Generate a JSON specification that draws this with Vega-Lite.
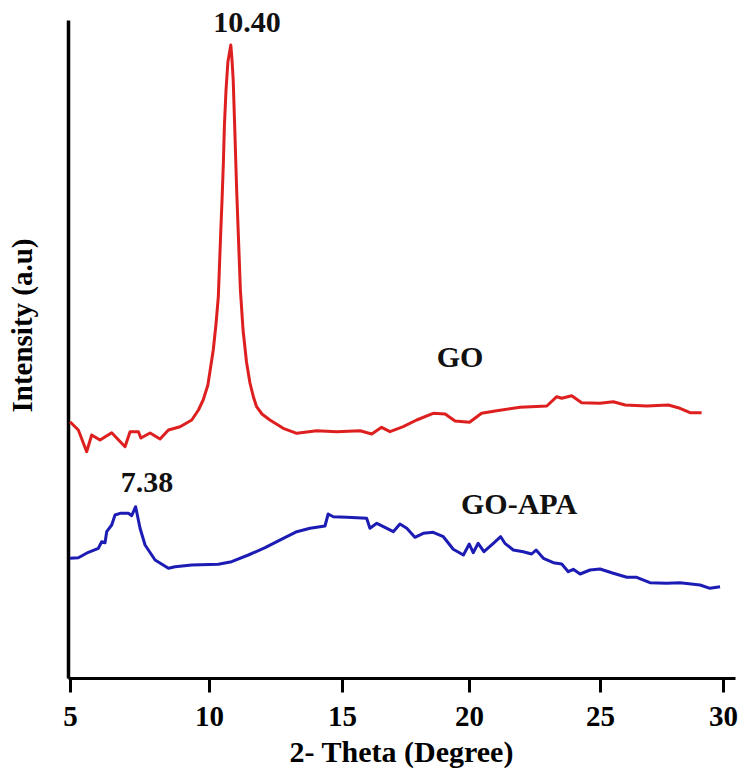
{
  "$schema": "https://vega.github.io/schema/vega-lite/v6.json",
  "autosize": "none",
  "width": 667,
  "height": 658,
  "padding": {"left": 68, "top": 20, "right": 6, "bottom": 91},
  "background": "white",
  "config": {"view": {"stroke": null}, "font": "Liberation Serif"},
  "datasets": {
    "curves": [
      {"series": "GO", "theta": 5.00, "intensity": 256.3},
      {"series": "GO", "theta": 5.30, "intensity": 248},
      {"series": "GO", "theta": 5.60, "intensity": 226.3},
      {"series": "GO", "theta": 5.78, "intensity": 243},
      {"series": "GO", "theta": 6.08, "intensity": 238},
      {"series": "GO", "theta": 6.50, "intensity": 245.3},
      {"series": "GO", "theta": 6.98, "intensity": 231.3},
      {"series": "GO", "theta": 7.16, "intensity": 246.3},
      {"series": "GO", "theta": 7.46, "intensity": 246.3},
      {"series": "GO", "theta": 7.55, "intensity": 240},
      {"series": "GO", "theta": 7.88, "intensity": 245},
      {"series": "GO", "theta": 8.24, "intensity": 239},
      {"series": "GO", "theta": 8.54, "intensity": 248},
      {"series": "GO", "theta": 8.96, "intensity": 251.3},
      {"series": "GO", "theta": 9.38, "intensity": 258},
      {"series": "GO", "theta": 9.62, "intensity": 268},
      {"series": "GO", "theta": 9.79, "intensity": 278},
      {"series": "GO", "theta": 9.96, "intensity": 293},
      {"series": "GO", "theta": 10.16, "intensity": 328},
      {"series": "GO", "theta": 10.26, "intensity": 353},
      {"series": "GO", "theta": 10.35, "intensity": 381},
      {"series": "GO", "theta": 10.43, "intensity": 438},
      {"series": "GO", "theta": 10.49, "intensity": 478},
      {"series": "GO", "theta": 10.54, "intensity": 515},
      {"series": "GO", "theta": 10.58, "intensity": 553},
      {"series": "GO", "theta": 10.64, "intensity": 588},
      {"series": "GO", "theta": 10.71, "intensity": 616},
      {"series": "GO", "theta": 10.82, "intensity": 633},
      {"series": "GO", "theta": 10.86, "intensity": 620},
      {"series": "GO", "theta": 10.91, "intensity": 598},
      {"series": "GO", "theta": 10.97, "intensity": 548},
      {"series": "GO", "theta": 11.04, "intensity": 488},
      {"series": "GO", "theta": 11.11, "intensity": 438},
      {"series": "GO", "theta": 11.18, "intensity": 388},
      {"series": "GO", "theta": 11.28, "intensity": 348},
      {"series": "GO", "theta": 11.41, "intensity": 316},
      {"series": "GO", "theta": 11.54, "intensity": 295},
      {"series": "GO", "theta": 11.67, "intensity": 281},
      {"series": "GO", "theta": 11.79, "intensity": 271.3},
      {"series": "GO", "theta": 11.99, "intensity": 264},
      {"series": "GO", "theta": 12.29, "intensity": 258},
      {"series": "GO", "theta": 12.79, "intensity": 249.7},
      {"series": "GO", "theta": 13.30, "intensity": 244.7},
      {"series": "GO", "theta": 14.05, "intensity": 247.3},
      {"series": "GO", "theta": 14.80, "intensity": 246.3},
      {"series": "GO", "theta": 15.71, "intensity": 247.3},
      {"series": "GO", "theta": 16.17, "intensity": 244},
      {"series": "GO", "theta": 16.56, "intensity": 250.7},
      {"series": "GO", "theta": 16.89, "intensity": 246.3},
      {"series": "GO", "theta": 17.41, "intensity": 251.3},
      {"series": "GO", "theta": 17.94, "intensity": 258},
      {"series": "GO", "theta": 18.59, "intensity": 264.7},
      {"series": "GO", "theta": 19.06, "intensity": 264},
      {"series": "GO", "theta": 19.45, "intensity": 257},
      {"series": "GO", "theta": 20.02, "intensity": 255.7},
      {"series": "GO", "theta": 20.48, "intensity": 264.7},
      {"series": "GO", "theta": 21.06, "intensity": 267.3},
      {"series": "GO", "theta": 21.95, "intensity": 270.7},
      {"series": "GO", "theta": 22.97, "intensity": 272},
      {"series": "GO", "theta": 23.35, "intensity": 281.3},
      {"series": "GO", "theta": 23.54, "intensity": 279.7},
      {"series": "GO", "theta": 23.92, "intensity": 282.3},
      {"series": "GO", "theta": 24.30, "intensity": 275.3},
      {"series": "GO", "theta": 25.00, "intensity": 274.7},
      {"series": "GO", "theta": 25.54, "intensity": 276.3},
      {"series": "GO", "theta": 26.02, "intensity": 273},
      {"series": "GO", "theta": 26.90, "intensity": 272},
      {"series": "GO", "theta": 27.78, "intensity": 273},
      {"series": "GO", "theta": 28.25, "intensity": 269.7},
      {"series": "GO", "theta": 28.66, "intensity": 265.3},
      {"series": "GO", "theta": 29.13, "intensity": 265.3},
      {"series": "GO-APA", "theta": 5.00, "intensity": 119.7},
      {"series": "GO-APA", "theta": 5.30, "intensity": 120.3},
      {"series": "GO-APA", "theta": 5.66, "intensity": 125.7},
      {"series": "GO-APA", "theta": 6.02, "intensity": 129.7},
      {"series": "GO-APA", "theta": 6.14, "intensity": 136.3},
      {"series": "GO-APA", "theta": 6.26, "intensity": 135.3},
      {"series": "GO-APA", "theta": 6.32, "intensity": 146.3},
      {"series": "GO-APA", "theta": 6.50, "intensity": 153},
      {"series": "GO-APA", "theta": 6.62, "intensity": 163},
      {"series": "GO-APA", "theta": 6.80, "intensity": 164.7},
      {"series": "GO-APA", "theta": 7.10, "intensity": 164.7},
      {"series": "GO-APA", "theta": 7.22, "intensity": 162.3},
      {"series": "GO-APA", "theta": 7.36, "intensity": 171.3},
      {"series": "GO-APA", "theta": 7.52, "intensity": 149.7},
      {"series": "GO-APA", "theta": 7.70, "intensity": 133},
      {"series": "GO-APA", "theta": 8.06, "intensity": 118},
      {"series": "GO-APA", "theta": 8.54, "intensity": 109.7},
      {"series": "GO-APA", "theta": 8.78, "intensity": 111.3},
      {"series": "GO-APA", "theta": 9.38, "intensity": 113},
      {"series": "GO-APA", "theta": 10.35, "intensity": 113.7},
      {"series": "GO-APA", "theta": 10.85, "intensity": 116.3},
      {"series": "GO-APA", "theta": 11.48, "intensity": 123},
      {"series": "GO-APA", "theta": 12.11, "intensity": 130.3},
      {"series": "GO-APA", "theta": 12.55, "intensity": 136.3},
      {"series": "GO-APA", "theta": 13.30, "intensity": 146.3},
      {"series": "GO-APA", "theta": 13.80, "intensity": 149.7},
      {"series": "GO-APA", "theta": 14.36, "intensity": 152},
      {"series": "GO-APA", "theta": 14.48, "intensity": 164},
      {"series": "GO-APA", "theta": 14.67, "intensity": 161.3},
      {"series": "GO-APA", "theta": 15.19, "intensity": 160.7},
      {"series": "GO-APA", "theta": 15.97, "intensity": 159.7},
      {"series": "GO-APA", "theta": 16.10, "intensity": 149.7},
      {"series": "GO-APA", "theta": 16.37, "intensity": 154.7},
      {"series": "GO-APA", "theta": 16.63, "intensity": 151.3},
      {"series": "GO-APA", "theta": 17.02, "intensity": 146.3},
      {"series": "GO-APA", "theta": 17.28, "intensity": 154},
      {"series": "GO-APA", "theta": 17.55, "intensity": 149.7},
      {"series": "GO-APA", "theta": 17.87, "intensity": 140.7},
      {"series": "GO-APA", "theta": 18.20, "intensity": 144.7},
      {"series": "GO-APA", "theta": 18.59, "intensity": 145.7},
      {"series": "GO-APA", "theta": 18.99, "intensity": 141.3},
      {"series": "GO-APA", "theta": 19.38, "intensity": 128.7},
      {"series": "GO-APA", "theta": 19.78, "intensity": 123},
      {"series": "GO-APA", "theta": 20.01, "intensity": 134},
      {"series": "GO-APA", "theta": 20.16, "intensity": 125.3},
      {"series": "GO-APA", "theta": 20.35, "intensity": 134.7},
      {"series": "GO-APA", "theta": 20.57, "intensity": 126.3},
      {"series": "GO-APA", "theta": 20.93, "intensity": 134.7},
      {"series": "GO-APA", "theta": 21.21, "intensity": 141.3},
      {"series": "GO-APA", "theta": 21.37, "intensity": 134.7},
      {"series": "GO-APA", "theta": 21.69, "intensity": 128},
      {"series": "GO-APA", "theta": 22.07, "intensity": 126.3},
      {"series": "GO-APA", "theta": 22.39, "intensity": 124},
      {"series": "GO-APA", "theta": 22.56, "intensity": 128},
      {"series": "GO-APA", "theta": 22.84, "intensity": 119.7},
      {"series": "GO-APA", "theta": 23.22, "intensity": 115.3},
      {"series": "GO-APA", "theta": 23.54, "intensity": 114},
      {"series": "GO-APA", "theta": 23.79, "intensity": 106.3},
      {"series": "GO-APA", "theta": 23.98, "intensity": 108.7},
      {"series": "GO-APA", "theta": 24.24, "intensity": 104},
      {"series": "GO-APA", "theta": 24.62, "intensity": 108},
      {"series": "GO-APA", "theta": 25.00, "intensity": 109},
      {"series": "GO-APA", "theta": 25.54, "intensity": 104.7},
      {"series": "GO-APA", "theta": 26.09, "intensity": 100.7},
      {"series": "GO-APA", "theta": 26.49, "intensity": 100.7},
      {"series": "GO-APA", "theta": 27.03, "intensity": 95.3},
      {"series": "GO-APA", "theta": 27.71, "intensity": 94.7},
      {"series": "GO-APA", "theta": 28.25, "intensity": 95.3},
      {"series": "GO-APA", "theta": 29.07, "intensity": 93},
      {"series": "GO-APA", "theta": 29.47, "intensity": 89.7},
      {"series": "GO-APA", "theta": 29.88, "intensity": 91.3}
    ],
    "notes": [
      {"text": "10.40", "theta": 11.43, "intensity": 655},
      {"text": "7.38", "theta": 7.77, "intensity": 195},
      {"text": "GO", "theta": 19.65, "intensity": 320},
      {"text": "GO-APA", "theta": 21.91, "intensity": 173}
    ]
  },
  "layer": [
    {
      "data": {"name": "curves"},
      "mark": {"type": "line", "strokeWidth": 3, "strokeJoin": "round"},
      "encoding": {
        "x": {
          "field": "theta",
          "type": "quantitative",
          "scale": {
            "domain": [4.928, 5, 10, 15, 20, 25, 30, 30.49],
            "range": [0, 2, 141, 274, 401, 532, 655, 667],
            "nice": false,
            "zero": false
          },
          "axis": {
            "title": "2- Theta (Degree)",
            "values": [5, 10, 15, 20, 25, 30],
            "grid": false,
            "domainColor": "black",
            "domainWidth": 3,
            "tickColor": "black",
            "tickWidth": 3,
            "tickSize": 14,
            "labelFont": "Liberation Serif",
            "labelFontSize": 29,
            "labelFontWeight": "bold",
            "labelColor": "black",
            "labelPadding": 10,
            "labelFlush": false,
            "labelOverlap": false,
            "titleFont": "Liberation Serif",
            "titleFontSize": 30,
            "titleFontWeight": "bold",
            "titleColor": "black",
            "titleX": 333,
            "titleY": 74,
            "titleAnchor": "middle",
            "titleBaseline": "middle"
          }
        },
        "y": {
          "field": "intensity",
          "type": "quantitative",
          "scale": {"domain": [0, 658], "nice": false, "zero": false},
          "axis": {
            "title": "Intensity (a.u)",
            "grid": false,
            "ticks": false,
            "labels": false,
            "domainColor": "black",
            "domainWidth": 3.5,
            "titleFont": "Liberation Serif",
            "titleFontSize": 29,
            "titleFontWeight": "bold",
            "titleColor": "black",
            "titleX": -46,
            "titleY": 305,
            "titleAngle": -90,
            "titleAlign": "center",
            "titleBaseline": "middle"
          }
        },
        "color": {
          "field": "series",
          "type": "nominal",
          "scale": {"domain": ["GO", "GO-APA"], "range": ["#de1f1f", "#1c1cb4"]},
          "legend": null
        }
      }
    },
    {
      "data": {"name": "notes"},
      "mark": {
        "type": "text",
        "font": "Liberation Serif",
        "fontSize": 30,
        "fontWeight": "bold",
        "color": "#111111",
        "align": "center",
        "baseline": "middle"
      },
      "encoding": {
        "x": {"field": "theta", "type": "quantitative"},
        "y": {"field": "intensity", "type": "quantitative"},
        "text": {"field": "text", "type": "nominal"}
      }
    }
  ]
}
